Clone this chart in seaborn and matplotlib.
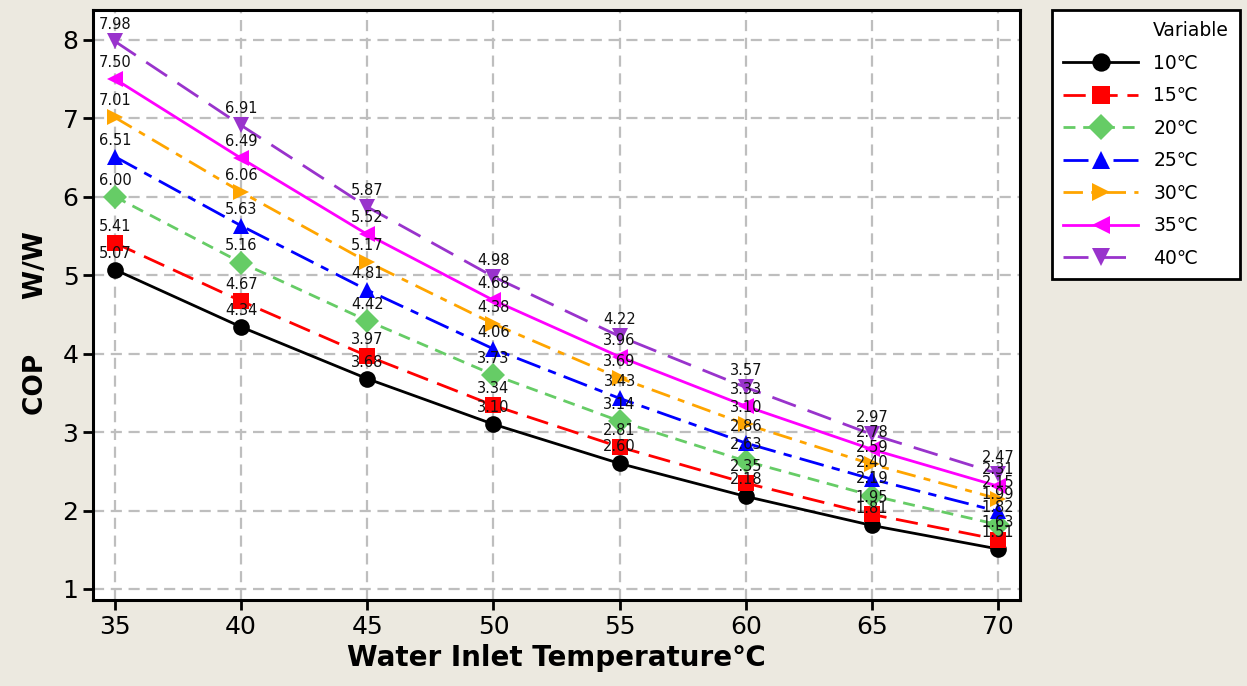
import numpy as np
import pandas as pd
import matplotlib
matplotlib.use("Agg")
import matplotlib.pyplot as plt
from matplotlib.lines import Line2D
import seaborn as sns

# =========================
# DATA
# =========================
inlet_temps = [35, 40, 45, 50, 55, 60, 65, 70]

series_names = ["10℃", "15℃", "20℃", "25℃", "30℃", "35℃", "40℃"]

cop_10 = [5.07, 4.34, 3.68, 3.10, 2.60, 2.18, 1.81, 1.51]
cop_15 = [5.41, 4.67, 3.97, 3.34, 2.81, 2.35, 1.95, 1.63]
cop_20 = [6.00, 5.16, 4.42, 3.73, 3.14, 2.63, 2.19, 1.82]
cop_25 = [6.51, 5.63, 4.81, 4.06, 3.43, 2.86, 2.40, 1.99]
cop_30 = [7.01, 6.06, 5.17, 4.38, 3.69, 3.10, 2.59, 2.15]
cop_35 = [7.50, 6.49, 5.52, 4.68, 3.96, 3.33, 2.78, 2.31]
cop_40 = [7.98, 6.91, 5.87, 4.98, 4.22, 3.57, 2.97, 2.47]

all_cop = [cop_10, cop_15, cop_20, cop_25, cop_30, cop_35, cop_40]

x_ticks = [35, 40, 45, 50, 55, 60, 65, 70]
y_ticks = [1, 2, 3, 4, 5, 6, 7, 8]

# =========================
# STYLES
# =========================
colors = ["#000000", "#FF0000", "#66CC66", "#0000FF", "#FFA500", "#FF00FF", "#9933CC"]
marker_list = ["o", "s", "D", "^", ">", "<", "v"]
dash_list = ["", (8, 3.5), (4.3, 2.8), (9, 3, 3, 3), (7, 3, 2.5, 3), "", (9, 4.5)]

palette = dict(zip(series_names, colors))
markers = dict(zip(series_names, marker_list))
dashes = dict(zip(series_names, dash_list))

frames = []
for name, vals in zip(series_names, all_cop):
    frames.append(pd.DataFrame({"temp": inlet_temps, "cop": vals, "series": name}))
df = pd.concat(frames, ignore_index=True)

# =========================
# FIGURE
# =========================
bg = "#ECE9E0"
fig = plt.figure(figsize=(12.47, 6.86), dpi=100, facecolor=bg)
ax = fig.add_axes([0.0746, 0.1254, 0.7434, 0.86])
ax.set_facecolor("white")

sns.lineplot(data=df, x="temp", y="cop", hue="series", style="series",
             hue_order=series_names, style_order=series_names,
             palette=palette, markers=markers, dashes=dashes,
             markersize=12, linewidth=2, markeredgewidth=0,
             ax=ax, legend=True, zorder=3)

# value labels above each marker
for vals in all_cop:
    for x, v in zip(inlet_temps, vals):
        ax.annotate(f"{v:.2f}", (x, v), xytext=(0, 12), textcoords="offset points",
                    ha="center", va="center", fontsize=10.5, color="#111111", zorder=5)

ax.set_xlim(34.13, 70.87)
ax.set_ylim(0.86, 8.38)
ax.set_xticks(x_ticks)
ax.set_yticks(y_ticks)
ax.tick_params(axis="both", labelsize=18, length=7, width=2, direction="out", color="black")

ax.grid(True, color="#BEBEBE", linestyle=(0, (5, 3)), linewidth=1.6, zorder=0)
ax.set_axisbelow(True)
for sp in ax.spines.values():
    sp.set_linewidth(2.2)
    sp.set_color("black")

ax.set_xlabel("Water Inlet Temperature℃", fontsize=20, fontweight="bold", labelpad=4)
ax.set_ylabel("COP      W/W", fontsize=19, fontweight="bold", labelpad=10)
ax.yaxis.label.set_y(0.47)

# =========================
# LEGEND
# =========================
handles, labels = ax.get_legend_handles_labels()
ax.get_legend().remove()
title_handle = Line2D([], [], color="none")
leg = fig.legend([title_handle] + handles, ["Variable"] + labels,
                 loc="upper left", bbox_to_anchor=(0.8436, 0.9854),
                 fontsize=13.5, frameon=True, fancybox=False,
                 edgecolor="black", facecolor="white", framealpha=1,
                 handlelength=4.0, handletextpad=0.8, labelspacing=0.72,
                 borderpad=0.6, borderaxespad=0, markerscale=1.1)
leg.get_frame().set_linewidth(2)

fig.savefig("out.png", dpi=100, facecolor=bg)
